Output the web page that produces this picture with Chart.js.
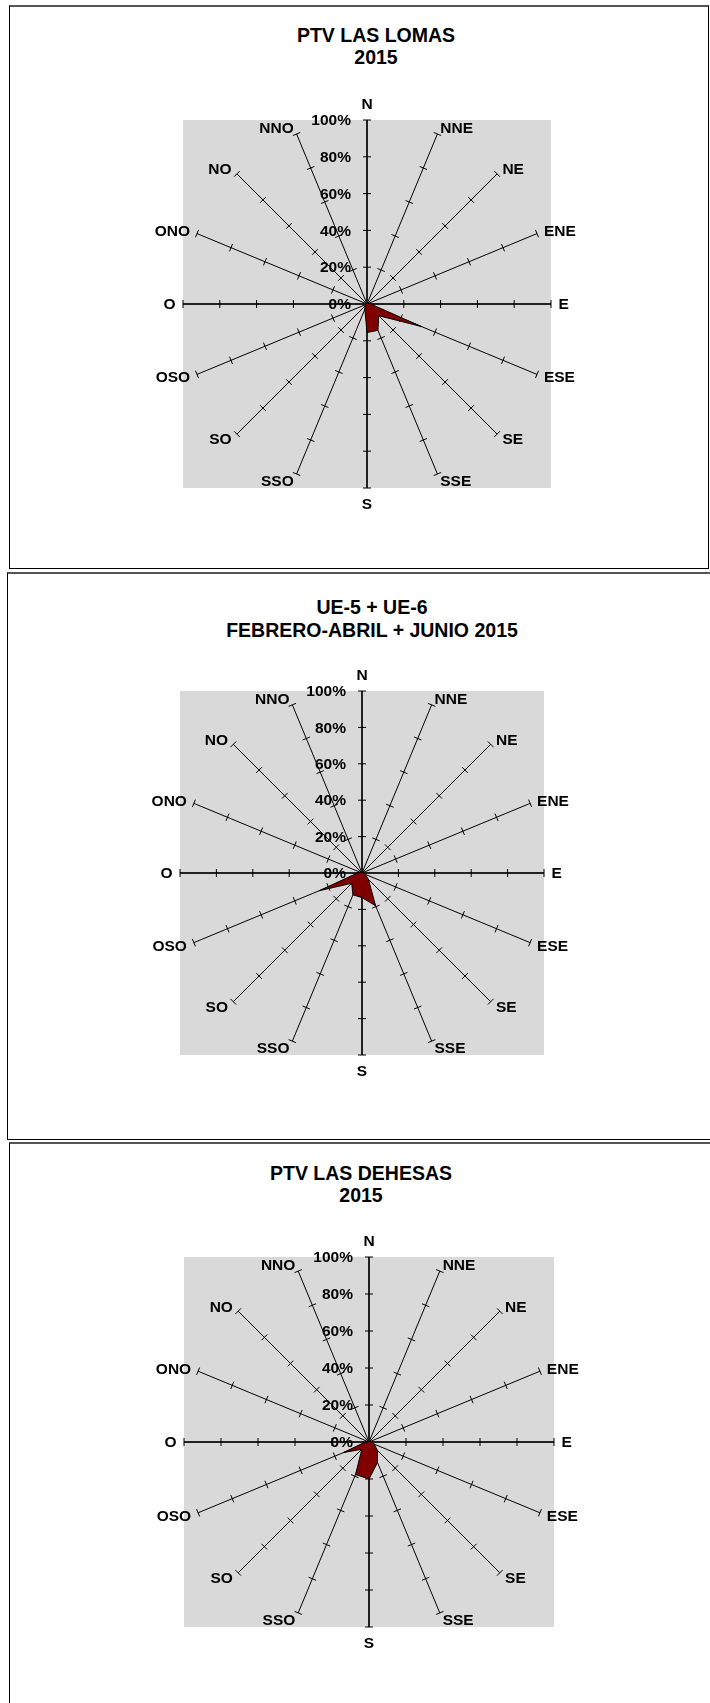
<!DOCTYPE html>
<html>
<head>
<meta charset="utf-8">
<script src="https://cdn.jsdelivr.net/npm/chart.js@4.4.1/dist/chart.umd.min.js"></script>
<style>
  body { margin: 0; background: #fff; width: 710px; height: 1703px; position: relative; overflow: hidden;
         font-family: "Liberation Sans", Arial, sans-serif; }
  .panel { position: absolute; box-sizing: border-box; border: 1px solid #000; border-top: 2px solid #555; }
  .title { position: absolute; transform: translateX(-50%); text-align: center; white-space: nowrap;
           font-weight: bold; font-size: 19.5px; line-height: 22.5px; color: #000; }
  canvas { position: absolute; left: 0; }
</style>
</head>
<body>
<div class="panel" style="left:9px;top:5px;width:700px;height:564px;"></div>
<div class="panel" style="left:7px;top:572px;width:720px;height:568px;"></div>
<div class="panel" style="left:9px;top:1142px;width:720px;height:600px;"></div>

<div class="title" id="t1" style="left:376px;top:23.5px;"></div>
<div class="title" id="t2" style="left:372px;top:596px;"></div>
<div class="title" id="t3" style="left:361px;top:1161.5px;"></div>

<canvas id="c1" width="710" height="570" style="top:0px"></canvas>
<canvas id="c2" width="710" height="570" style="top:570px"></canvas>
<canvas id="c3" width="710" height="563" style="top:1140px"></canvas>

<script>
// wind directions (Spanish: O = oeste)
const directions = ['N', 'NNE', 'NE', 'ENE', 'E', 'ESE', 'SE', 'SSE', 'S', 'SSO', 'SO', 'OSO', 'O', 'ONO', 'NO', 'NNO'];
const tickValues = [0, 20, 40, 60, 80, 100];
const tickLabels = ['0%', '20%', '40%', '60%', '80%', '100%'];

// frequency per direction (%)
const lasLomas = [0.5, 0.5, 0.5, 1, 2, 32, 9, 15.5, 15.5, 3, 1.5, 1, 0.5, 0.5, 0.5, 0.5];
const ue5ue6 = [0.5, 0.5, 0.5, 0.5, 1, 2, 5, 19.5, 13.5, 13, 8, 25.5, 2.5, 1, 0.5, 0.5];
const lasDehesas = [0.5, 0.5, 0.5, 1, 2, 3, 6.5, 12, 20, 19, 5.5, 15, 2, 0.5, 0.5, 0.5];

const titleLasLomas = ['PTV LAS LOMAS', '2015'];
const titleUe = ['UE-5 + UE-6', 'FEBRERO-ABRIL + JUNIO 2015'];
const titleDehesas = ['PTV LAS DEHESAS', '2015'];

const labelFont = 'bold 15.5px "Liberation Sans", Arial, sans-serif';

// gray plot square, spoke ticks, axis labels and direction labels
const roseDecor = {
  id: 'roseDecor',
  beforeDraw(chart) {
    const s = chart.scales.r;
    const ctx = chart.ctx;
    ctx.save();
    ctx.fillStyle = '#d9d9d9';
    ctx.fillRect(s.xCenter - s.drawingArea, s.yCenter - s.drawingArea, s.drawingArea * 2, s.drawingArea * 2);
    ctx.restore();
  },
  beforeDatasetsDraw(chart) {
    const s = chart.scales.r;
    const ctx = chart.ctx;
    ctx.save();
    ctx.strokeStyle = '#000';
    ctx.lineWidth = 1;
    ctx.beginPath();
    chart.data.labels.forEach((lab, i) => {
      tickValues.forEach(v => {
        if (v === 0) return;
        const p = s.getPointPosition(i, s.getDistanceFromCenterForValue(v));
        const nx = -Math.sin(p.angle), ny = Math.cos(p.angle);
        ctx.moveTo(p.x - nx * 4, p.y - ny * 4);
        ctx.lineTo(p.x + nx * 4, p.y + ny * 4);
      });
    });
    ctx.stroke();
    ctx.restore();
  },
  afterDatasetsDraw(chart) {
    const s = chart.scales.r;
    const ctx = chart.ctx;
    ctx.save();
    ctx.fillStyle = '#000';
    ctx.font = labelFont;
    ctx.textBaseline = 'middle';

    // value axis labels, left of the N spoke
    ctx.textAlign = 'right';
    tickValues.forEach((v, k) => {
      ctx.fillText(tickLabels[k], s.xCenter - 16, s.yCenter - s.getDistanceFromCenterForValue(v) + 1);
    });

    // direction labels at the spoke ends
    chart.data.labels.forEach((lab, i) => {
      const t = s.getIndexAngle(i);
      const p = s.getPointPosition(i, s.drawingArea);
      const sn = Math.sin(t), cs = Math.cos(t);
      let x = p.x + sn * 7.5;
      let y = p.y - cs * 7 + 1;
      let align = sn > 0 ? 'left' : 'right';
      if (Math.abs(sn) < 0.01) {
        align = 'center';
        y = p.y - cs * 16 + 1;
      }
      ctx.textAlign = align;
      ctx.fillText(lab, x, y);
    });
    ctx.restore();
  }
};

function drawRose(canvasId, titleId, title, values, cx, cy, r) {
  document.getElementById(titleId).innerHTML = title.join('<br>');
  const canvas = document.getElementById(canvasId);
  const top = parseFloat(canvas.style.top);
  const w = canvas.width, h = canvas.height;

  return new Chart(canvas, {
    type: 'radar',
    data: {
      labels: directions,
      datasets: [{
        data: values,
        backgroundColor: '#800000',
        borderColor: '#000',
        borderWidth: 1,
        fill: true,
        pointRadius: 0,
        tension: 0
      }]
    },
    options: {
      responsive: false,
      animation: false,
      devicePixelRatio: 1,
      events: [],
      layout: {
        padding: {
          left: cx - r,
          right: w - cx - r,
          top: cy - r - top,
          bottom: top + h - cy - r
        }
      },
      plugins: {
        legend: { display: false },
        tooltip: { enabled: false },
        title: { display: false }
      },
      scales: {
        r: {
          min: 0,
          max: 100,
          ticks: { display: false, stepSize: 20 },
          grid: { display: false },
          pointLabels: { display: false },
          angleLines: {
            display: true,
            color: ctx => (ctx.index % 4 === 0 ? '#222' : '#000'),
            lineWidth: ctx => (ctx.index % 4 === 0 ? 2 : 1)
          }
        }
      }
    },
    plugins: [roseDecor]
  });
}

drawRose('c1', 't1', titleLasLomas, lasLomas, 367.5, 304, 184);
drawRose('c2', 't2', titleUe, ue5ue6, 362.5, 873, 182);
drawRose('c3', 't3', titleDehesas, lasDehesas, 369, 1442.5, 185);
</script>
</body>
</html>
